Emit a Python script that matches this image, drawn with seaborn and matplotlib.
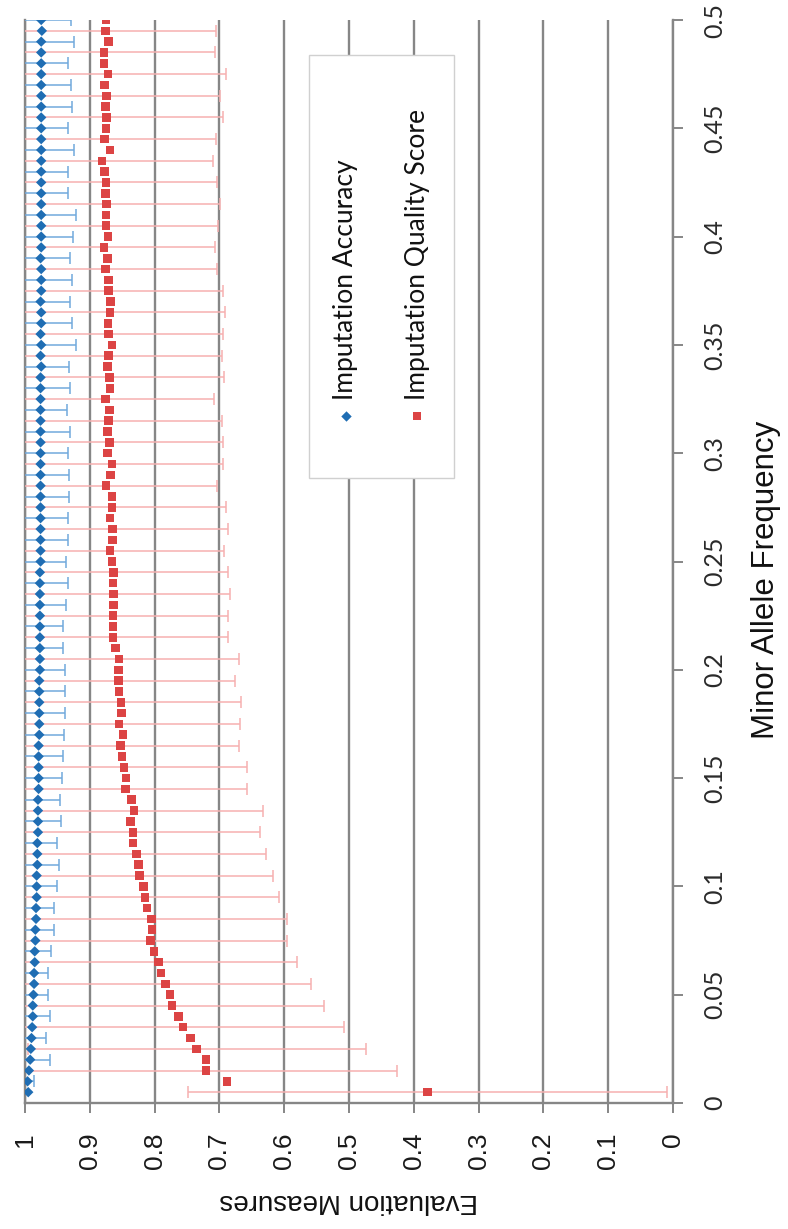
import numpy as np
import pandas as pd
import matplotlib
matplotlib.use("Agg")
import matplotlib.pyplot as plt
from matplotlib.patches import Rectangle
import seaborn as sns

# ---------------- data ----------------
maf = [0.005, 0.010, 0.015, 0.020, 0.025, 0.030, 0.035, 0.040, 0.045, 0.050,
       0.055, 0.060, 0.065, 0.070, 0.075, 0.080, 0.085, 0.090, 0.095, 0.100,
       0.105, 0.110, 0.115, 0.120, 0.125, 0.130, 0.135, 0.140, 0.145, 0.150,
       0.155, 0.160, 0.165, 0.170, 0.175, 0.180, 0.185, 0.190, 0.195, 0.200,
       0.205, 0.210, 0.215, 0.220, 0.225, 0.230, 0.235, 0.240, 0.245, 0.250,
       0.255, 0.260, 0.265, 0.270, 0.275, 0.280, 0.285, 0.290, 0.295, 0.300,
       0.305, 0.310, 0.315, 0.320, 0.325, 0.330, 0.335, 0.340, 0.345, 0.350,
       0.355, 0.360, 0.365, 0.370, 0.375, 0.380, 0.385, 0.390, 0.395, 0.400,
       0.405, 0.410, 0.415, 0.420, 0.425, 0.430, 0.435, 0.440, 0.445, 0.450,
       0.455, 0.460, 0.465, 0.470, 0.475, 0.480, 0.485, 0.490, 0.495, 0.500]

accuracy = [0.995, 0.996, 0.994, 0.992, 0.991, 0.990, 0.989, 0.988, 0.988, 0.987,
            0.986, 0.986, 0.985, 0.985, 0.984, 0.984, 0.983, 0.983, 0.982, 0.982,
            0.982, 0.981, 0.981, 0.981, 0.980, 0.980, 0.980, 0.980, 0.979, 0.979,
            0.979, 0.979, 0.979, 0.978, 0.978, 0.978, 0.978, 0.978, 0.978, 0.977,
            0.977, 0.977, 0.977, 0.977, 0.977, 0.977, 0.977, 0.977, 0.977, 0.976,
            0.976, 0.976, 0.976, 0.976, 0.976, 0.976, 0.976, 0.976, 0.976, 0.976,
            0.976, 0.976, 0.976, 0.976, 0.976, 0.976, 0.976, 0.975, 0.976, 0.975,
            0.976, 0.975, 0.975, 0.976, 0.975, 0.975, 0.975, 0.976, 0.975, 0.975,
            0.975, 0.975, 0.975, 0.975, 0.975, 0.975, 0.975, 0.975, 0.975, 0.975,
            0.975, 0.975, 0.975, 0.975, 0.975, 0.975, 0.975, 0.975, 0.974, 0.975]

quality = [0.379, 0.688, 0.721, 0.721, 0.735, 0.745, 0.756, 0.763, 0.773, 0.776,
           0.783, 0.790, 0.794, 0.801, 0.806, 0.804, 0.805, 0.812, 0.815, 0.817,
           0.823, 0.825, 0.828, 0.833, 0.833, 0.837, 0.832, 0.836, 0.845, 0.844,
           0.847, 0.850, 0.853, 0.849, 0.855, 0.851, 0.852, 0.855, 0.856, 0.856,
           0.855, 0.860, 0.864, 0.864, 0.864, 0.863, 0.863, 0.864, 0.863, 0.866,
           0.869, 0.865, 0.865, 0.869, 0.866, 0.866, 0.875, 0.868, 0.866, 0.873,
           0.870, 0.873, 0.871, 0.870, 0.876, 0.869, 0.870, 0.873, 0.871, 0.866,
           0.871, 0.872, 0.869, 0.868, 0.871, 0.871, 0.876, 0.873, 0.878, 0.872,
           0.875, 0.875, 0.874, 0.876, 0.875, 0.877, 0.881, 0.869, 0.877, 0.875,
           0.874, 0.876, 0.874, 0.877, 0.872, 0.878, 0.878, 0.871, 0.876, 0.875]

# error bars: accuracy drawn at MAF 0.01, 0.02, ... ; quality at 0.005, 0.015, ...
accuracy_err = [0.010, 0.030, 0.022, 0.026, 0.022, 0.022, 0.025, 0.029, 0.028, 0.032,
                0.034, 0.031, 0.036, 0.034, 0.036, 0.037, 0.038, 0.039, 0.039, 0.038,
                0.036, 0.036, 0.040, 0.043, 0.039, 0.043, 0.042, 0.044, 0.044, 0.042,
                0.045, 0.041, 0.045, 0.043, 0.053, 0.047, 0.045, 0.048, 0.045, 0.049,
                0.054, 0.042, 0.041, 0.050, 0.042, 0.048, 0.046, 0.041, 0.050, 0.046]

quality_err = [0.370, 0.295, 0.261, 0.248, 0.234, 0.224, 0.214, 0.211, 0.209, 0.207,
               0.206, 0.200, 0.196, 0.199, 0.188, 0.189, 0.184, 0.187, 0.185, 0.180,
               0.185, 0.178, 0.178, 0.180, 0.176, 0.176, 0.179, 0.176, 0.171, 0.172,
               0.175, 0.175, 0.168, 0.177, 0.175, 0.176, 0.178, 0.176, 0.172, 0.171,
               0.173, 0.175, 0.172, 0.171, 0.171, 0.179, 0.175, 0.182, 0.171, 0.170]

value_ticks = [0, 0.1, 0.2, 0.3, 0.4, 0.5, 0.6, 0.7, 0.8, 0.9, 1]
maf_ticks = [0, 0.05, 0.1, 0.15, 0.2, 0.25, 0.3, 0.35, 0.4, 0.45, 0.5]

lab_acc = "Imputation Accuracy"
lab_iqs = "Imputation Quality Score"

# ---------------- style ----------------
sns.set_style("white")
plt.rcParams['font.family'] = ['Liberation Sans', 'DejaVu Sans']

C_ACC = "#1F6DB3"
C_ACC_ERR = "#72A9DC"
C_IQS = "#DC4444"
C_IQS_ERR = "#F6B0B0"
C_GRID = "#868686"

fig = plt.figure(figsize=(7.88, 12.29), dpi=100)
ax = fig.add_axes([25 / 788, 1 - 1103 / 1229, 648 / 788, 1083 / 1229])

df = pd.DataFrame({
    "maf": maf + maf,
    "value": accuracy + quality,
    "measure": [lab_acc] * len(maf) + [lab_iqs] * len(maf),
})

maf_a = np.array(maf)
acc_a = np.array(accuracy)
iqs_a = np.array(quality)

ax.errorbar(acc_a[1::2], maf_a[1::2], xerr=accuracy_err, fmt="none",
            ecolor=C_ACC_ERR, elinewidth=1.1, capsize=4, capthick=1.1, zorder=3)
ax.errorbar(iqs_a[0::2], maf_a[0::2], xerr=quality_err, fmt="none",
            ecolor=C_IQS_ERR, elinewidth=1.1, capsize=4, capthick=1.1, zorder=3)

sns.scatterplot(data=df, x="value", y="maf", hue="measure", style="measure",
                size="measure", sizes={lab_acc: 28, lab_iqs: 38},
                markers={lab_acc: "D", lab_iqs: "s"},
                palette={lab_acc: C_ACC, lab_iqs: C_IQS},
                linewidth=0, legend=False, ax=ax, zorder=4)

ax.set_xlim(1, 0)
ax.set_ylim(0, 0.5)

ax.set_xticks(value_ticks)
ax.set_xticklabels([f"{v:g}" for v in value_ticks])
ax.set_yticks(maf_ticks)
ax.set_yticklabels([f"{v:g}" for v in maf_ticks])

ax.grid(axis="x", color=C_GRID, linewidth=1.7)
ax.grid(axis="y", visible=False)
ax.set_axisbelow(True)

for side in ["left", "right", "bottom"]:
    ax.spines[side].set_visible(True)
    ax.spines[side].set_color(C_GRID)
    ax.spines[side].set_linewidth(1.7)
ax.spines["top"].set_visible(False)

ax.yaxis.tick_right()
ax.yaxis.set_label_position("right")

ax.tick_params(axis="x", bottom=True, direction="out", length=7, width=1.4,
               color=C_GRID, labelsize=19, labelrotation=90, pad=14,
               labelcolor="#1a1a1a")
ax.tick_params(axis="y", right=True, left=False, direction="out", length=7,
               width=1.4, color=C_GRID, labelsize=18, labelrotation=90,
               pad=15, labelcolor="#2a2a2a")
for t in ax.get_yticklabels():
    t.set_fontfamily(["Lato", "DejaVu Sans"])
    t.set_verticalalignment("center")
    t.set_horizontalalignment("left")

ax.set_xlabel("Evaluation Measures", fontsize=20, rotation=180, color="#111111")
ax.xaxis.label.set_horizontalalignment("center")
ax.xaxis.label.set_verticalalignment("center")
ax.xaxis.set_label_coords((349 - 25) / 648, (1103 - 1201) / 1083)

ax.set_ylabel("Minor Allele Frequency", fontsize=22.5, rotation=90, color="#111111")
ax.yaxis.label.set_horizontalalignment("center")
ax.yaxis.label.set_verticalalignment("center")
ax.yaxis.set_label_coords((766 - 25) / 648, (1103 - 580) / 1083)

# ---------------- legend (rotated, like the chart) ----------------
ax.add_patch(Rectangle((0.438, 0.577), 0.224, 0.391, transform=ax.transAxes,
                       facecolor="white", edgecolor="#D0D0D0", linewidth=1.0,
                       zorder=5, clip_on=False))
leg_y_marker = (1103 - 416) / 1083
leg_y_text = (1103 - 400) / 1083
for xa, lab, col, mk, sz in [((346 - 25) / 648, lab_acc, C_ACC, "D", 28),
                             ((417 - 25) / 648, lab_iqs, C_IQS, "s", 38)]:
    ax.scatter([xa], [leg_y_marker], transform=ax.transAxes, marker=mk, s=sz,
               color=col, linewidth=0, zorder=6, clip_on=False)
    ax.text(xa, leg_y_text, lab, transform=ax.transAxes, rotation=90,
            ha="center", va="bottom", fontsize=19, color="#111111",
            family=["Lato", "DejaVu Sans"], zorder=6)

fig.savefig("out.png", dpi=100)
